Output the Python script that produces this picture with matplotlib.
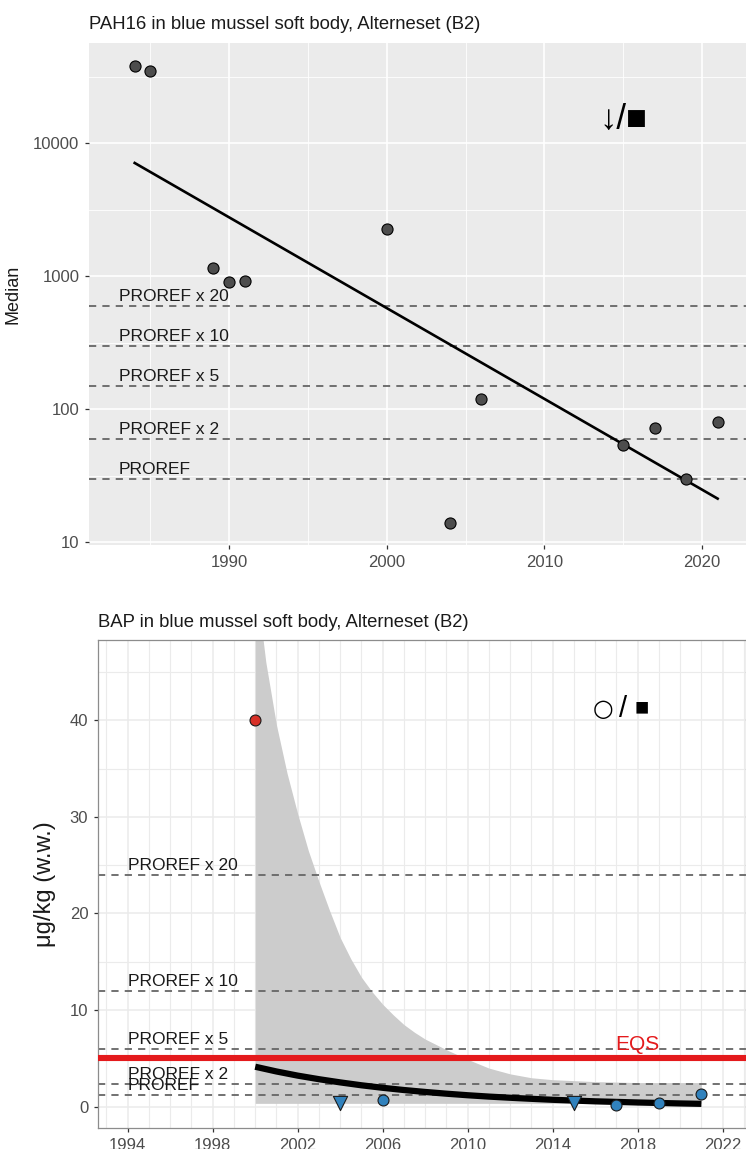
import matplotlib
matplotlib.use("Agg")
import matplotlib.pyplot as plt
from matplotlib.ticker import NullFormatter

plt.rcParams['font.family'] = ['Liberation Sans', 'DejaVu Sans']

# ---- top panel: PAH16 (log scale) ----
pah_years = [1984, 1985, 1989, 1990, 1991, 2000, 2004, 2006, 2015, 2017, 2019, 2021]
pah_median = [37900, 34700, 1150, 900, 910, 2250, 13.9, 120, 53.6, 72.5, 29.9, 79.5]
pah_trend_years = [1984, 2021]
pah_trend = [7080, 21.2]
pah_proref = 30
pah_ticks = [10, 100, 1000, 10000]
pah_xticks = [1990, 2000, 2010, 2020]

# ---- bottom panel: BAP (linear scale) ----
bap_years = [2000, 2004, 2006, 2015, 2017, 2019, 2021]
bap_values = [40, 0.35, 0.69, 0.35, 0.18, 0.42, 1.31]
bap_shape = ['o', 'v', 'o', 'v', 'o', 'o', 'o']
bap_over_eqs = [True, False, False, False, False, False, False]
fit_years = [2000, 2001, 2002, 2003, 2004, 2005, 2006, 2007, 2008, 2009, 2010,
             2011, 2012, 2013, 2014, 2015, 2016, 2017, 2018, 2019, 2020, 2021]
fit_mid = [4.14, 3.65, 3.22, 2.85, 2.52, 2.22, 1.96, 1.73, 1.53, 1.35, 1.19,
           1.05, 0.93, 0.82, 0.72, 0.64, 0.56, 0.50, 0.44, 0.39, 0.34, 0.30]
band_years = [2000, 2000.5, 2001, 2001.5, 2002, 2002.5, 2003, 2003.5, 2004, 2004.5,
              2005, 2005.5, 2006, 2006.5, 2007, 2007.5, 2008, 2009, 2010, 2011,
              2012, 2013, 2014, 2015, 2016, 2017, 2018, 2019, 2020, 2021]
band_low = [0.35] * 30
band_high = [55, 46, 39.5, 34.5, 30.3, 26.5, 23.3, 20.3, 17.5, 15.3,
             13.4, 11.9, 10.6, 9.5, 8.5, 7.7, 7.0, 5.9, 4.9, 4.0,
             3.4, 3.0, 2.8, 2.7, 2.6, 2.55, 2.5, 2.5, 2.5, 2.5]
bap_proref = 1.2
bap_eqs = 5
bap_yticks = [0, 10, 20, 30, 40]
bap_xticks = [1994, 1998, 2002, 2006, 2010, 2014, 2018, 2022]

proref_mult = [1, 2, 5, 10, 20]
proref_labels = ['PROREF', 'PROREF x 2', 'PROREF x 5', 'PROREF x 10', 'PROREF x 20']

W, H = 746, 1149
fig = plt.figure(figsize=(W / 100, H / 100), dpi=100)


def box(l, t, r, b):
    return [l / W, 1 - b / H, (r - l) / W, (b - t) / H]


tick_col = '#4D4D4D'
dash = (0, (4, 3.4))

# ================= top =================
ax1 = fig.add_axes(box(89, 43, 746, 545))
ax1.set_facecolor('#EBEBEB')
for s in ax1.spines.values():
    s.set_visible(False)
ax1.set_yscale('log')
ax1.set_xlim(1981.1, 2022.8)
ax1.set_ylim(9.5, 56500)
ax1.set_yticks(pah_ticks)
ax1.set_yticklabels([str(t) for t in pah_ticks])
ax1.set_yticks([10 ** 1.5, 10 ** 2.5, 10 ** 3.5, 10 ** 4.5], minor=True)
ax1.yaxis.set_minor_formatter(NullFormatter())
ax1.set_xticks(pah_xticks)
ax1.set_xticklabels([str(t) for t in pah_xticks])
ax1.set_xticks([1985, 1995, 2005, 2015], minor=True)
ax1.tick_params(which='major', length=3, width=0.9, color='#333333',
                labelsize=12, labelcolor=tick_col, pad=4)
ax1.tick_params(which='minor', length=0)
ax1.grid(which='major', color='white', lw=1.2)
ax1.grid(which='minor', color='white', lw=0.6)
ax1.set_axisbelow(True)

for m, lab in zip(proref_mult, proref_labels):
    v = pah_proref * m
    ax1.axhline(v, color='#666666', lw=1.3, ls=dash, zorder=2)
    ax1.annotate(lab, (1983, v), xytext=(0, 3.2), textcoords='offset points',
                 fontsize=12.5, color='#1A1A1A', va='baseline', ha='left', zorder=3)

ax1.plot(pah_trend_years, pah_trend, color='black', lw=1.9, zorder=3)
ax1.scatter(pah_years, pah_median, s=64, c='#4D4D4D', edgecolors='black',
            linewidths=0.8, zorder=4)
ax1.text(2015.0, 14900, '↓/■', fontsize=25, ha='center', va='center', color='black')
ax1.set_ylabel('Median', fontsize=13, color='#1A1A1A', labelpad=8)
fig.text(89 / W, 1 - 29 / H, 'PAH16 in blue mussel soft body, Alterneset (B2)',
         fontsize=13.3, color='#1A1A1A', va='baseline', ha='left')

# ================= bottom =================
ax2 = fig.add_axes(box(98, 640, 746, 1128))
ax2.set_facecolor('white')
for s in ax2.spines.values():
    s.set_color('#8C8C8C')
    s.set_linewidth(0.9)
ax2.set_xlim(1992.6, 2023.1)
ax2.set_ylim(-2.2, 48.3)
ax2.set_yticks(bap_yticks)
ax2.set_yticks([5, 15, 25, 35, 45], minor=True)
ax2.set_xticks(bap_xticks)
ax2.set_xticks([y for y in range(1993, 2024) if y not in bap_xticks], minor=True)
ax2.tick_params(which='major', length=3, width=0.9, color='#333333',
                labelsize=12, labelcolor=tick_col, pad=4)
ax2.tick_params(which='minor', length=0)
ax2.grid(which='major', color='#EBEBEB', lw=1.1)
ax2.grid(which='minor', color='#EBEBEB', lw=0.8)
ax2.set_axisbelow(True)

ax2.fill_between(band_years, band_low, band_high, color='#CCCCCC', lw=0, zorder=1)

for m, lab in zip(proref_mult, proref_labels):
    v = bap_proref * m
    ax2.axhline(v, color='#666666', lw=1.3, ls=dash, zorder=2)
    ax2.annotate(lab, (1994, v), xytext=(0, 3.6), textcoords='offset points',
                 fontsize=12.5, color='#1A1A1A', va='baseline', ha='left', zorder=3)

ax2.axhline(bap_eqs, color='#E41A1C', lw=4.4, zorder=3)
ax2.text(2018, bap_eqs + 0.5, 'EQS', fontsize=15, color='#E41A1C', ha='center',
         va='bottom', zorder=3)

ax2.plot(fit_years, fit_mid, color='black', lw=4.5, solid_capstyle='butt', zorder=4)

for x, y, mk, over in zip(bap_years, bap_values, bap_shape, bap_over_eqs):
    ax2.scatter([x], [y], marker=mk, s=62 if mk == 'o' else 105,
                c='#D73027' if over else '#3182BD', edgecolors='#1A1A1A',
                linewidths=0.8, zorder=5, clip_on=False)

ax2.text(2016.36, 41.2, '○', fontsize=17, family='DejaVu Sans',
         ha='center', va='center', color='black')
ax2.text(2017.3, 41.2, '/', fontsize=21, ha='center', va='center', color='black')
ax2.text(2018.19, 41.2, '■', fontsize=17, ha='center', va='center', color='black')
ax2.set_ylabel('μg/kg (w.w.)', fontsize=17, color='#1A1A1A', labelpad=10)
fig.text(98 / W, 1 - 627 / H, 'BAP in blue mussel soft body, Alterneset (B2)',
         fontsize=13.3, color='#1A1A1A', va='baseline', ha='left')

fig.savefig('out.png', dpi=100)
